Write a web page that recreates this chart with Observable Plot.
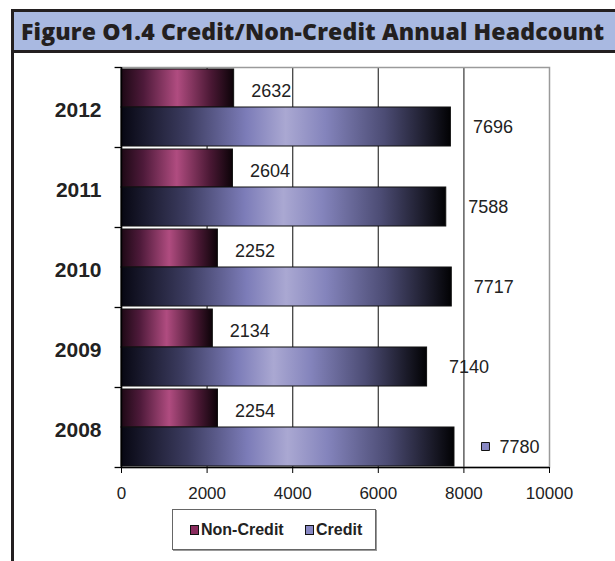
<!DOCTYPE html>
<html>
<head>
<meta charset="utf-8">
<script src="https://cdn.jsdelivr.net/npm/d3@7"></script>
<script src="https://cdn.jsdelivr.net/npm/@observablehq/plot@0.6"></script>
<style>
  html, body { margin: 0; padding: 0; background: #fff; width: 615px; height: 561px; overflow: hidden; }
  #title {
    position: absolute; left: 11px; top: 9px; width: 604px; height: 38px;
    box-sizing: content-box;
    background: #a9b9e1; border: 3px solid #231f20;
    font-family: "Open Sans", "Noto Sans", sans-serif; font-weight: 800; font-size: 23px;
    color: #231f20; line-height: 38px; white-space: nowrap; letter-spacing: 0.15px;
  }
  #title span { position: absolute; left: 7px; top: 0; }
  #frameLeft { position: absolute; left: 11px; top: 50px; width: 3px; height: 520px; background: #231f20; }
  #chart { position: absolute; left: 0; top: 55px; }
  #legend {
    position: absolute; left: 172px; top: 509px; width: 202px; height: 39px;
    border: 1px solid #666; box-shadow: 1px 1px 0 #999;
    font-family: "Liberation Sans", Arial, sans-serif; font-weight: 700; font-size: 16px; color: #222;
  }
  .item { position: absolute; top: 11px; display: flex; align-items: center; }
  .sw { width: 7px; height: 8px; border: 1px solid #111; margin-right: 2px; }
</style>
</head>
<body>
<svg width="0" height="0" style="position:absolute">
  <defs>
    <linearGradient id="gNC" x1="0" x2="1" y1="0" y2="0">
      <stop offset="0" stop-color="#1c0814"/>
      <stop offset="0.2" stop-color="#4e1a3a"/>
      <stop offset="0.5" stop-color="#b04c80"/>
      <stop offset="0.8" stop-color="#4a1834"/>
      <stop offset="1" stop-color="#0c0308"/>
    </linearGradient>
    <linearGradient id="gC" x1="0" x2="1" y1="0" y2="0">
      <stop offset="0" stop-color="#070712"/>
      <stop offset="0.2" stop-color="#3c3c60"/>
      <stop offset="0.38" stop-color="#7c7cb8"/>
      <stop offset="0.5" stop-color="#aaa8d2"/>
      <stop offset="0.62" stop-color="#8484bc"/>
      <stop offset="0.8" stop-color="#4c4c74"/>
      <stop offset="1" stop-color="#020204"/>
    </linearGradient>
  </defs>
</svg>
<div id="title"><span>Figure O1.4 Credit/Non-Credit Annual Headcount</span></div>
<div id="frameLeft"></div>
<div id="chart"></div>
<div id="legend">
  <div class="item" style="left:17px"><div class="sw" style="background:#8a2c5e"></div>Non-Credit</div>
  <div class="item" style="left:132px"><div class="sw" style="background:#8888c4"></div>Credit</div>
</div>
<script>
const years = ["2012", "2011", "2010", "2009", "2008"];
const nonCredit = [2632, 2604, 2252, 2134, 2254];
const credit = [7696, 7588, 7717, 7140, 7780];
const xTicks = [0, 2000, 4000, 6000, 8000, 10000];

const rows = years.map((year, i) => ({year, nonCredit: nonCredit[i], credit: credit[i]}));
const lastYear = years[years.length - 1];

const chart = Plot.plot({
  width: 615,
  height: 447,
  marginLeft: 121,
  marginRight: 66,
  marginTop: 12,
  marginBottom: 35,
  style: {fontFamily: "'Liberation Sans', Arial, sans-serif", color: "#222", background: "transparent"},
  x: {domain: [xTicks[0], xTicks[xTicks.length - 1]]},
  y: {domain: years, padding: 0},
  marks: [
    Plot.gridX(xTicks.slice(1, -1), {stroke: "#444", strokeOpacity: 1, strokeWidth: 1.3}),
    Plot.frame({stroke: "#9a9a9a", strokeWidth: 1.5}),
    Plot.barX(rows, {x: "nonCredit", y: "year", fill: "url(#gNC)", stroke: "#111", strokeWidth: 1, insetTop: 2, insetBottom: 40}),
    Plot.barX(rows, {x: "credit", y: "year", fill: "url(#gC)", stroke: "#111", strokeWidth: 1, insetTop: 40, insetBottom: 1}),
    Plot.ruleX([xTicks[0]], {stroke: "#000", strokeWidth: 1.5}),
    Plot.ruleY(years, {y: d => d, dy: -40, x1: -150, x2: 0, stroke: "#000", strokeWidth: 1.3}),
    Plot.ruleY([lastYear], {y: d => d, dy: 40, stroke: "#000", strokeWidth: 1.5}),
    Plot.ruleY([lastYear], {y: d => d, dy: 40, x1: -150, x2: 0, stroke: "#000", strokeWidth: 1.3}),
    Plot.text(rows, {x: "nonCredit", y: "year", text: d => String(d.nonCredit), dx: 17, dy: -16, textAnchor: "start", fontSize: 18, fill: "#222"}),
    Plot.text(rows.filter(d => d.year !== lastYear), {x: "credit", y: "year", text: d => String(d.credit), dx: 22, dy: 20, textAnchor: "start", fontSize: 18, fill: "#222"}),
    Plot.text(rows.filter(d => d.year === lastYear), {x: "credit", y: "year", text: d => String(d.credit), dx: 45, dy: 20, textAnchor: "start", fontSize: 18, fill: "#222"}),
    Plot.dot(rows.filter(d => d.year === lastYear), {x: "credit", y: "year", dx: 31, dy: 19, symbol: "square", r: 4.5, fill: "#8888c4", stroke: "#111", strokeWidth: 1}),
    Plot.axisX(xTicks, {tickSize: 6, tickPadding: 13, fontSize: 17, stroke: "#000", tickFormat: d => String(d), label: null}),
    Plot.axisY({tickSize: 0, tickPadding: 20, fontSize: 21, fontWeight: "bold", dy: 3, label: null})
  ]
});
document.getElementById("chart").appendChild(chart);
</script>
</body>
</html>
